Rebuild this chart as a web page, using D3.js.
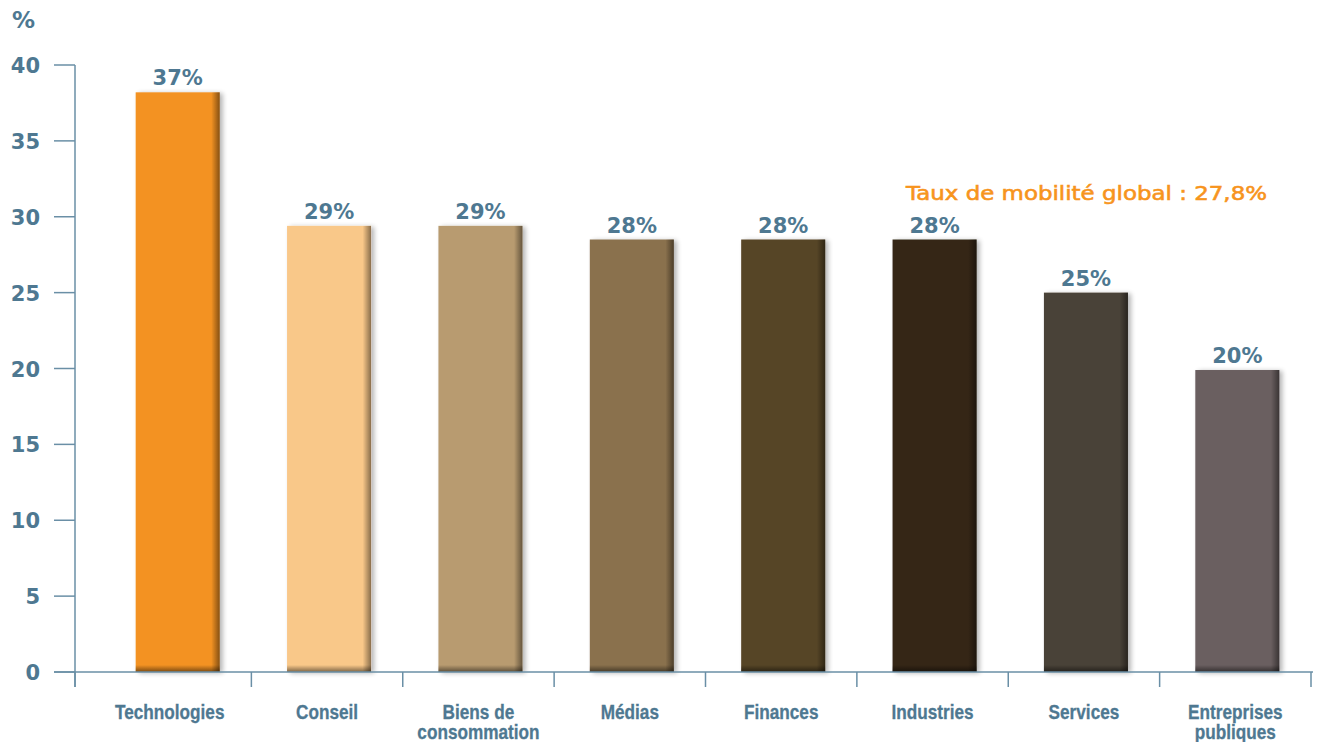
<!DOCTYPE html>
<html><head><meta charset="utf-8">
<script src="https://cdn.jsdelivr.net/npm/d3@7"></script>
<style>
html,body{margin:0;padding:0;background:#fff;}
svg{display:block;}
</style></head>
<body>
<svg id="chart" width="1319" height="742"></svg>
<script>
const categories = ["Technologies","Conseil","Biens de consommation","Médias","Finances","Industries","Services","Entreprises publiques"];
const categoryLines = [["Technologies"],["Conseil"],["Biens de","consommation"],["Médias"],["Finances"],["Industries"],["Services"],["Entreprises","publiques"]];
const values = [38.2, 29.4, 29.4, 28.5, 28.5, 28.5, 25.0, 19.9];
const valueLabels = ["37%","29%","29%","28%","28%","28%","25%","20%"];
const barColors = ["#F39220","#F9C889","#B89B70","#8A714E","#574425","#352715","#4A4237","#6B5F60"];
const yTicks = [0,5,10,15,20,25,30,35,40];
const annotation = "Taux de mobilité global : 27,8%";

const svg = d3.select("#chart");
const textColor = "#4E7891";
const axisColor = "#6A8FA6";
const numFont = "'DejaVu Sans', sans-serif";
const catFont = "'Liberation Sans', Arial, sans-serif";

const y = d3.scaleLinear().domain([0,40]).range([672,65]);
const x = d3.scaleBand().domain(categories).range([102,1313]).paddingInner(0.445).paddingOuter(0.2225);

const defs = svg.append("defs");
const f = defs.append("filter").attr("id","sh").attr("x","-10%").attr("y","-5%").attr("width","125%").attr("height","115%");
f.append("feGaussianBlur").attr("in","SourceAlpha").attr("stdDeviation",2.5).attr("result","b");
f.append("feOffset").attr("in","b").attr("dx",3).attr("dy",1).attr("result","o");
f.append("feComponentTransfer").attr("in","o").attr("result","o2").append("feFuncA").attr("type","linear").attr("slope",0.3);
const m = f.append("feMerge"); m.append("feMergeNode").attr("in","o2"); m.append("feMergeNode").attr("in","SourceGraphic");

const gR = defs.append("linearGradient").attr("id","gr").attr("x1","0").attr("x2","1").attr("y1","0").attr("y2","0");
gR.append("stop").attr("offset","0%").attr("stop-color","#000").attr("stop-opacity",0);
gR.append("stop").attr("offset","90%").attr("stop-color","#000").attr("stop-opacity",0);
gR.append("stop").attr("offset","100%").attr("stop-color","#000").attr("stop-opacity",0.45);
const gB = defs.append("linearGradient").attr("id","gb").attr("x1","0").attr("x2","0").attr("y1","0").attr("y2","1");
gB.append("stop").attr("offset","0%").attr("stop-color","#000").attr("stop-opacity",0);
gB.append("stop").attr("offset","100%").attr("stop-color","#000").attr("stop-opacity",0.5);

// bars
const bars = svg.append("g").selectAll("g").data(categories).join("g");
bars.append("rect")
  .attr("x", d => x(d)).attr("width", x.bandwidth())
  .attr("y", (d,i) => y(values[i])).attr("height", (d,i) => y(0) - y(values[i]))
  .attr("fill", (d,i) => barColors[i]).attr("filter","url(#sh)");
bars.append("rect")
  .attr("x", d => x(d)).attr("width", x.bandwidth())
  .attr("y", (d,i) => y(values[i])).attr("height", (d,i) => y(0) - y(values[i]))
  .attr("fill", "url(#gr)");
bars.append("rect")
  .attr("x", d => x(d)).attr("width", x.bandwidth())
  .attr("y", y(0) - 7).attr("height", 7)
  .attr("fill", "url(#gb)");

// value labels
svg.append("g").selectAll("text").data(categories).join("text")
  .attr("x", d => x(d) + x.bandwidth()/2)
  .attr("y", (d,i) => y(values[i]) - 7)
  .attr("text-anchor","middle")
  .attr("font-family", numFont).attr("font-weight","bold").attr("font-size","21px")
  .attr("fill", textColor)
  .text((d,i) => valueLabels[i]);

// y axis
const ya = svg.append("g");
ya.append("line").attr("x1",75).attr("x2",75).attr("y1",y(40)).attr("y2",687).attr("stroke",axisColor).attr("stroke-width",1.5);
ya.selectAll("line.t").data(yTicks).join("line").attr("class","t")
  .attr("x1",54).attr("x2",75).attr("y1",d=>y(d)).attr("y2",d=>y(d))
  .attr("stroke",axisColor).attr("stroke-width",1.5);
ya.selectAll("text").data(yTicks).join("text")
  .attr("x",40).attr("y",d=>y(d)+8).attr("text-anchor","end")
  .attr("font-family", numFont).attr("font-weight","bold").attr("font-size","21px")
  .attr("fill", textColor).text(d=>d);
svg.append("text").attr("x",12).attr("y",28)
  .attr("font-family", numFont).attr("font-weight","bold").attr("font-size","23px")
  .attr("fill", textColor).text("%");

// x axis
const xa = svg.append("g");
xa.append("line").attr("x1",54).attr("x2",1313).attr("y1",y(0)).attr("y2",y(0)).attr("stroke",axisColor).attr("stroke-width",1.5);
const xTickPos = [75].concat(categories.map(d => Math.min(x(d) + x.bandwidth()/2 + x.step()/2 - 2, 1313)));
xa.selectAll("line.t").data(xTickPos).join("line").attr("class","t")
  .attr("x1",d=>d).attr("x2",d=>d).attr("y1",y(0)).attr("y2",687)
  .attr("stroke",axisColor).attr("stroke-width",1.5);

const cl = xa.selectAll("g.cl").data(categories).join("g").attr("class","cl")
  .attr("transform", (d,i) => `translate(${x(d) + x.bandwidth()/2 - (i===0 ? 8 : 2)},719) scale(0.86,1)`);
cl.each(function(d,i){
  const g = d3.select(this);
  categoryLines[i].forEach((ln,j) => {
    g.append("text").attr("x",0).attr("y", j*20)
      .attr("text-anchor","middle")
      .attr("font-family", catFont).attr("font-weight","bold").attr("font-size","20px")
      .attr("fill", textColor).attr("stroke", textColor).attr("stroke-width",0.3)
      .text(ln);
  });
});

// annotation
svg.append("text").attr("x",906).attr("y",200)
  .attr("font-family", "'DejaVu Sans', sans-serif").attr("font-size","20px")
  .attr("textLength",361).attr("lengthAdjust","spacingAndGlyphs")
  .attr("fill","#F7941D").attr("stroke","#F7941D").attr("stroke-width",0.6)
  .text(annotation);
</script>
</body></html>
